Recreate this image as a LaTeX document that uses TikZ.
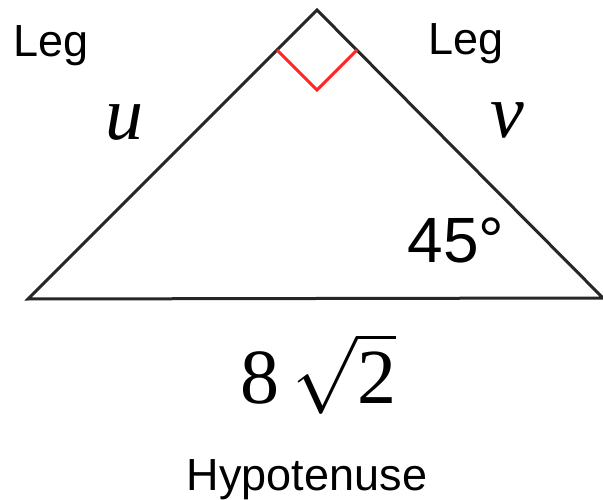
\RequirePackage{fix-cm}
\documentclass[tikz,border=0pt]{standalone}
\usepackage{fontspec}
\setmainfont{Liberation Serif}
\setsansfont{Liberation Sans}
\usetikzlibrary{positioning}
\tikzset{
  leglbl/.style={font=\sffamily\fontsize{45}{54}\selectfont, anchor=base, inner sep=0pt},
  anglbl/.style={font=\sffamily\fontsize{64}{76}\selectfont, anchor=base, inner sep=0pt},
  varlbl/.style={font=\fontsize{76}{90}\selectfont\itshape, anchor=base, inner sep=0pt},
  lenlbl/.style={font=\fontsize{78}{90}\selectfont, anchor=base, inner sep=0pt},
  side/.style={draw=black!85, line width=3pt, line join=miter},
  rmark/.style={draw=red!85, line width=3pt},
}

\begin{document}
\begin{tikzpicture}[x=1pt, y=-1pt]
  \useasboundingbox (0,0) rectangle (603,500);
  % triangle
  \coordinate (L) at (28,299);
  \coordinate (T) at (317,10);
  \coordinate (R) at (603,298);
  \draw[side] (L) -- (T) -- (R) -- cycle;
  % right angle
  \coordinate (m1) at (277,50);
  \coordinate (m2) at (317,90);
  \coordinate (m3) at (357,50);
  \draw[rmark] (m1) -- (m2) -- (m3);
  % labels
  \node[leglbl] (legl) at (51,57) {Leg};
  \node[leglbl] (legr) at (466,55) {Leg};
  \node[varlbl] (u) at (124,140) {u};
  \node[varlbl] (v) at (507,138) {v};
  \node[anglbl] (ang) at (456,262) {45°};
  \node[lenlbl] (len) at (318,403) {8\,$\sqrt{\mbox{2}}$};
  \node[leglbl] (hyp) at (307,490) {Hypotenuse};
\end{tikzpicture}
\end{document}
